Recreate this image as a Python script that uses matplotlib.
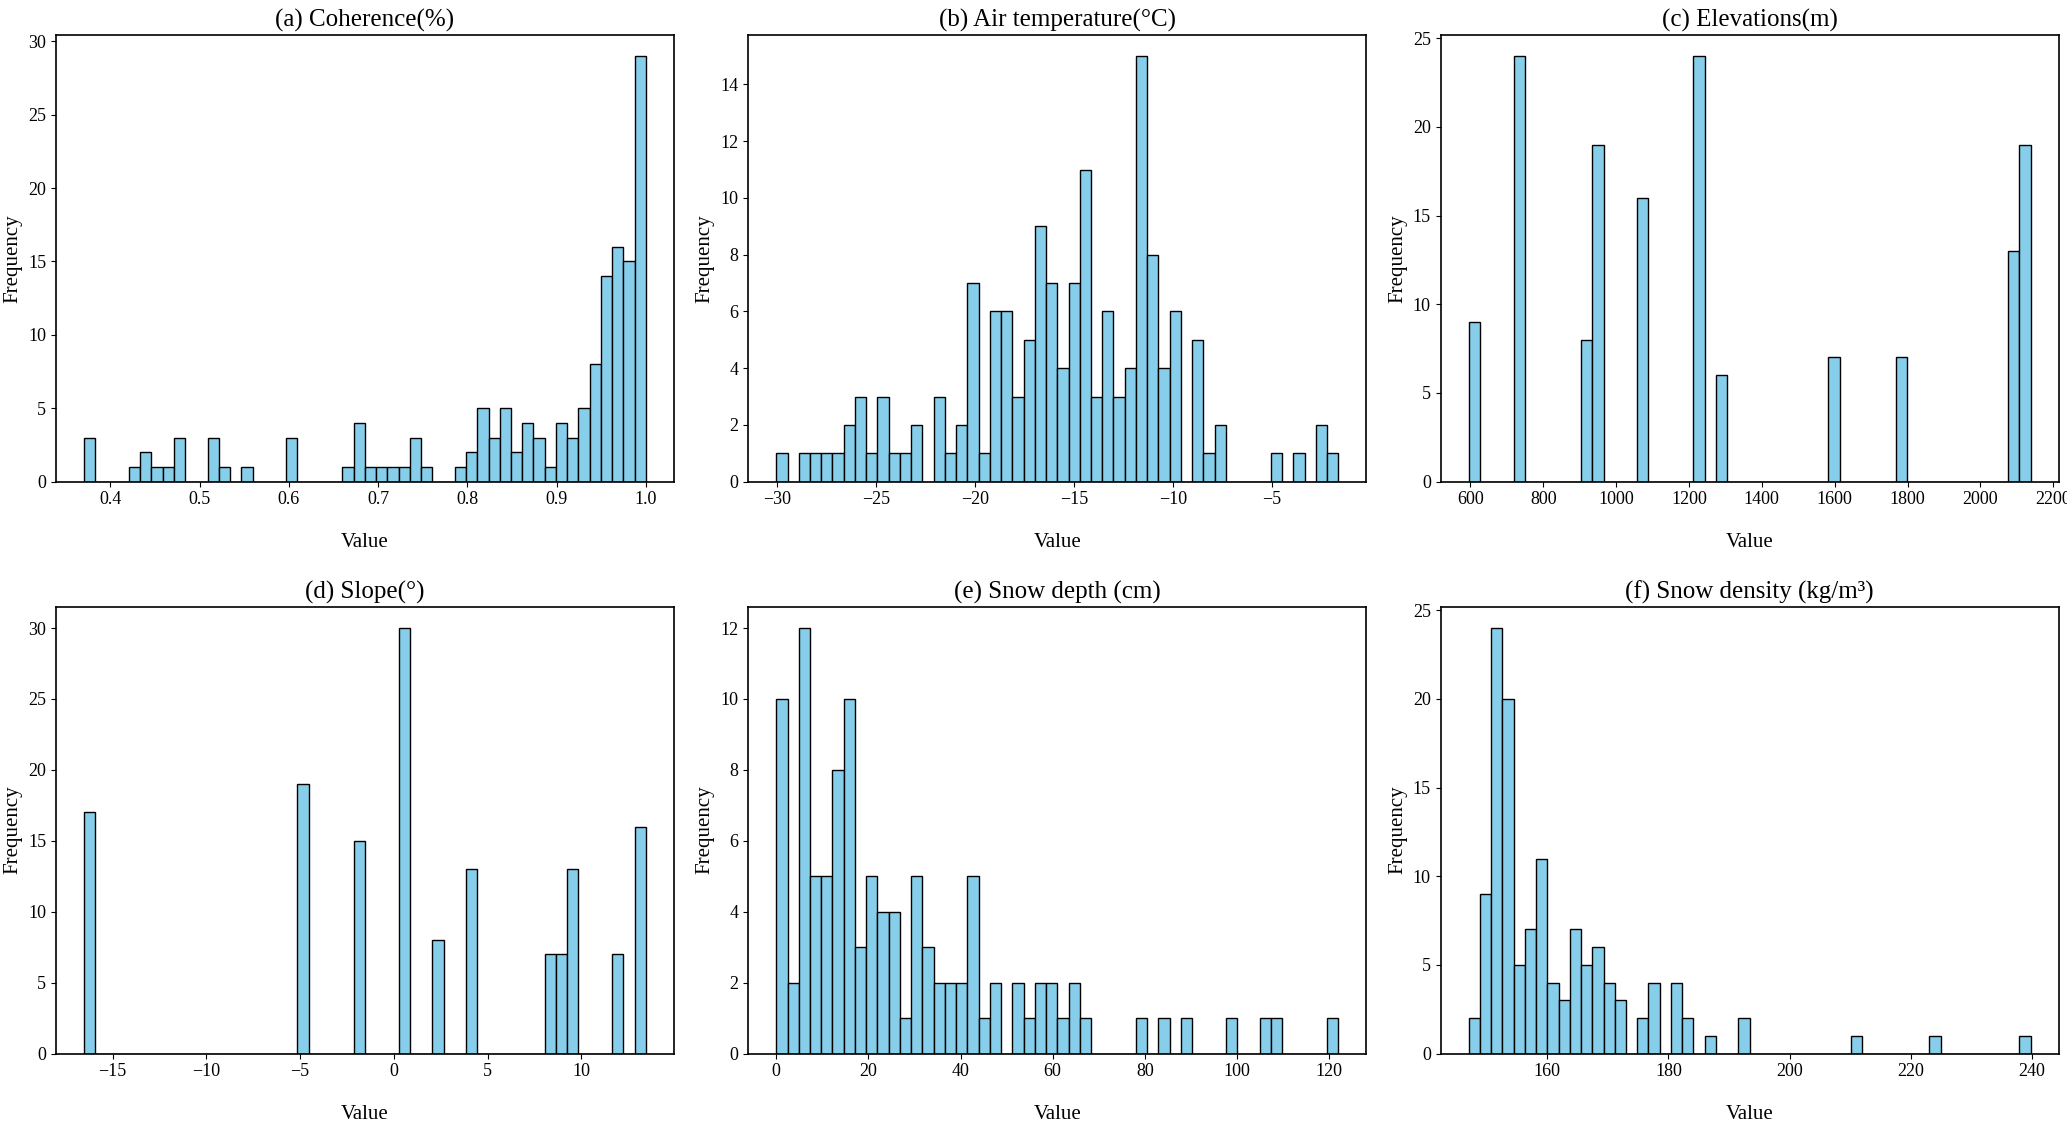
import numpy as np
import matplotlib
matplotlib.use("Agg")
import matplotlib.pyplot as plt

plt.rcParams["font.family"] = ["Liberation Serif", "DejaVu Serif"]
plt.rcParams["axes.linewidth"] = 1.2

# panel titles
titles = [
    "(a) Coherence(%)",
    "(b) Air temperature(°C)",
    "(c) Elevations(m)",
    "(d) Slope(°)",
    "(e) Snow depth (cm)",
    "(f) Snow density (kg/m³)",
]

# data range (min, max) of each variable
ranges = [
    (0.3704, 1.0),
    (-30.04, -1.65),
    (595.0, 2138.0),
    (-16.53, 13.44),
    (0.0, 122.0),
    (147.05, 239.77),
]

# bin counts, 50 bins per panel
coherence = [3, 0, 0, 0, 1, 2, 1, 1, 3, 0, 0, 3, 1, 0, 1, 0, 0, 0, 3, 0,
             0, 0, 0, 1, 4, 1, 1, 1, 1, 3, 1, 0, 0, 1, 2, 5, 3, 5, 2, 4,
             3, 1, 4, 3, 5, 8, 14, 16, 15, 29]
air_temp = [1, 0, 1, 1, 1, 1, 2, 3, 1, 3, 1, 1, 2, 0, 3, 1, 2, 7, 1, 6,
            6, 3, 5, 9, 7, 4, 7, 11, 3, 6, 3, 4, 15, 8, 4, 6, 0, 5, 1, 2,
            0, 0, 0, 0, 1, 0, 1, 0, 2, 1]
elevation = [9, 0, 0, 0, 24, 0, 0, 0, 0, 0, 8, 19, 0, 0, 0, 16, 0, 0, 0, 0,
             24, 0, 6, 0, 0, 0, 0, 0, 0, 0, 0, 0, 7, 0, 0, 0, 0, 0, 7, 0,
             0, 0, 0, 0, 0, 0, 0, 0, 13, 19]
slope = [17, 0, 0, 0, 0, 0, 0, 0, 0, 0, 0, 0, 0, 0, 0, 0, 0, 0, 0, 19,
         0, 0, 0, 0, 15, 0, 0, 0, 30, 0, 0, 8, 0, 0, 13, 0, 0, 0, 0, 0,
         0, 7, 7, 13, 0, 0, 0, 7, 0, 16]
snow_depth = [10, 2, 12, 5, 5, 8, 10, 3, 5, 4, 4, 1, 5, 3, 2, 2, 2, 5, 1, 2,
              0, 2, 1, 2, 2, 1, 2, 1, 0, 0, 0, 0, 1, 0, 1, 0, 1, 0, 0, 0,
              1, 0, 0, 1, 1, 0, 0, 0, 0, 1]
snow_density = [2, 9, 24, 20, 5, 7, 11, 4, 3, 7, 5, 6, 4, 3, 0, 2, 4, 0, 4, 2,
                0, 1, 0, 0, 2, 0, 0, 0, 0, 0, 0, 0, 0, 0, 1, 0, 0, 0, 0, 0,
                0, 1, 0, 0, 0, 0, 0, 0, 0, 1]

all_counts = [coherence, air_temp, elevation, slope, snow_depth, snow_density]

fig, axes = plt.subplots(2, 3, figsize=(20.67, 11.22), dpi=100)
fig.subplots_adjust(left=0.027, right=0.996, top=0.969, bottom=0.061,
                    wspace=0.12, hspace=0.28)

for ax, title, (lo, hi), counts in zip(axes.flat, titles, ranges, all_counts):
    edges = np.linspace(lo, hi, len(counts) + 1)
    centers = (edges[:-1] + edges[1:]) / 2
    ax.hist(centers, bins=edges, weights=counts, color="skyblue",
            edgecolor="black", linewidth=1.0)
    ax.set_title(title, fontsize=18)
    ax.set_xlabel("Value", fontsize=15, labelpad=18)
    ax.set_ylabel("Frequency", fontsize=15)
    ax.tick_params(labelsize=13)

plt.savefig("out.png")
